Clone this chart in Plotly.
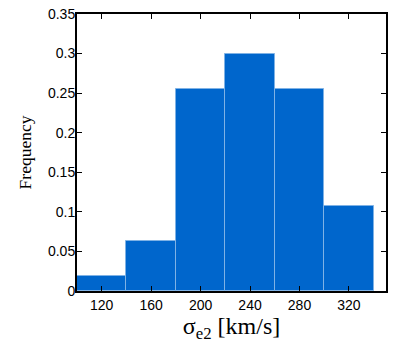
import plotly.graph_objects as go

bin_centers = [120, 160, 200, 240, 280, 320]
frequency = [0.019, 0.063, 0.255, 0.300, 0.255, 0.107]
x_ticks = [120, 160, 200, 240, 280, 320]
y_ticks = [0, 0.05, 0.1, 0.15, 0.2, 0.25, 0.3, 0.35]
y_tick_labels = ["0", "0.05", "0.1", "0.15", "0.2", "0.25", "0.3", "0.35"]

fig = go.Figure(go.Bar(
    x=bin_centers, y=frequency, width=40,
    marker=dict(color="#0066CC", line=dict(color="#7FB2E5", width=1)),
))

axis_common = dict(
    showline=True, linecolor="black", linewidth=2, mirror="allticks",
    ticks="inside", ticklen=5, tickcolor="black", tickwidth=1,
    showgrid=False, zeroline=False, automargin=False,
    tickfont=dict(family="Liberation Sans, Arial, sans-serif", size=14, color="black"),
)

fig.update_layout(
    width=399, height=350,
    margin=dict(l=77, r=13, t=14, b=59),
    paper_bgcolor="white", plot_bgcolor="white",
    showlegend=False, bargap=0,
    xaxis=dict(range=[100, 350], tickvals=x_ticks,
               title=dict(text="σ<sub>e2</sub> [km/s]", standoff=0,
                          font=dict(family="Liberation Serif, Times New Roman, serif", size=24, color="black")),
               **axis_common),
    yaxis=dict(range=[0, 0.35], tickvals=y_ticks, ticktext=y_tick_labels,
               ticklabelstandoff=-3,
               title=dict(text="Frequency", standoff=12,
                          font=dict(family="Liberation Serif, Times New Roman, serif", size=17.5, color="black")),
               **axis_common),
)

# remove the browser's default 8px body margin so the figure sits at the page origin
fig.write_html("out.html", config={"displayModeBar": False},
               post_script="document.body.style.margin='0';")
